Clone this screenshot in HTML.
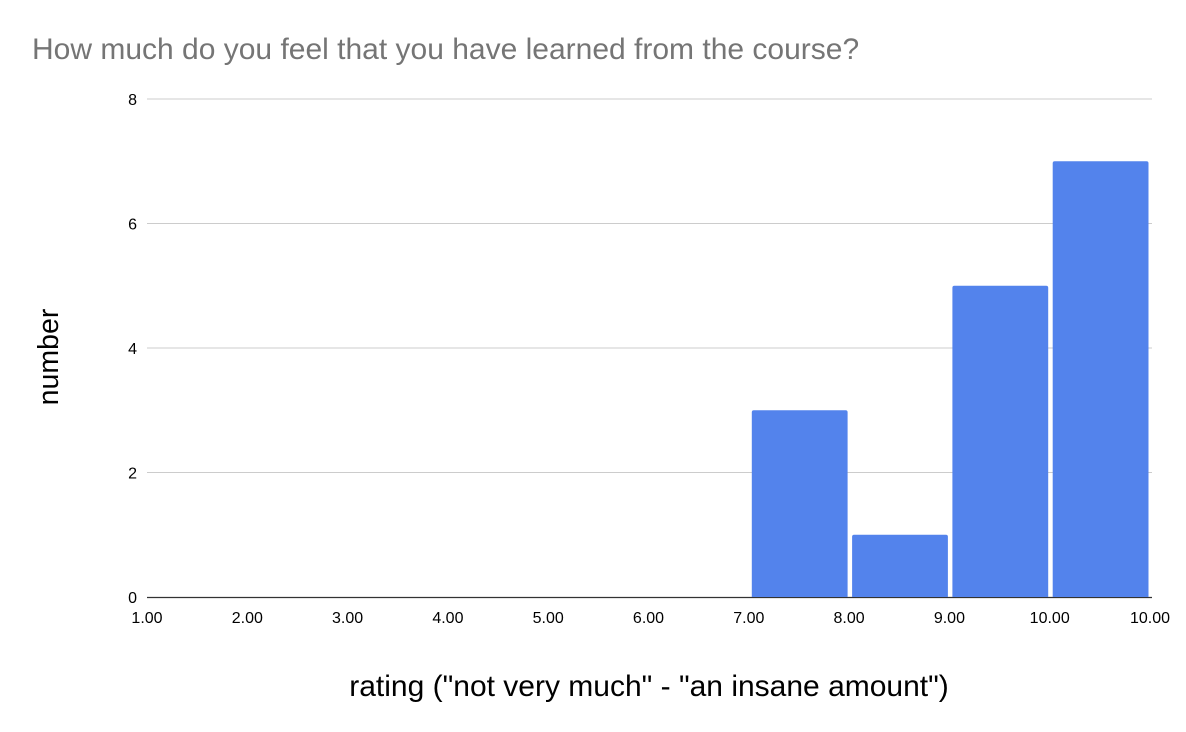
<!DOCTYPE html>
<html><head><meta charset="utf-8"><style>
body{margin:0;background:#fff;}
svg{display:block;font-family:"Liberation Sans",Arial,sans-serif;}
</style></head><body>
<svg id="chart" width="1186" height="732">
<text x="32" y="59" font-size="30" fill="#757575">How much do you feel that you have learned from the course?</text>
<g id="grid"></g>
<g id="bars"></g>
<g id="xticks"></g>
<text transform="translate(58,357) rotate(-90)" text-anchor="middle" font-size="28.5" fill="#000">number</text>
<text x="649" y="696" text-anchor="middle" font-size="30" fill="#000">rating ("not very much" - "an insane amount")</text>
</svg>
<script>
const binStarts = [7, 8, 9, 10];
const counts = [3, 1, 5, 7];
const xTickLabels = ["1.00","2.00","3.00","4.00","5.00","6.00","7.00","8.00","9.00","10.00","10.00"];
const yTicks = [0, 2, 4, 6, 8];

const NS = "http://www.w3.org/2000/svg";
const x = v => 147 + (v - 1) * 100.3;
const y = v => 597 - v * 62.25;
function mk(tag, attrs, parent){const e=document.createElementNS(NS,tag);for(const k in attrs)e.setAttribute(k,attrs[k]);parent.appendChild(e);return e;}
const grid=document.getElementById('grid'), bars=document.getElementById('bars'), xt=document.getElementById('xticks');
yTicks.forEach(t=>{
  if(t>0){const l=mk('line',{x1:147,x2:1152,y1:y(t),y2:y(t),stroke:'#ccc','stroke-width':1},grid);
  
  }
  const tx=mk('text',{x:137,y:y(t)+6,'text-anchor':'end','font-size':16,fill:'#000'},grid);
  tx.textContent=t;
  
  
});
binStarts.forEach((b,i)=>{
  const x0=x(b)+3, x1=x(b+1)-1.5;
  const r=mk('path',{d:`M${x0},${y(0)} V${y(counts[i])+2} Q${x0},${y(counts[i])} ${x0+2},${y(counts[i])} H${x1-2} Q${x1},${y(counts[i])} ${x1},${y(counts[i])+2} V${y(0)} Z`,fill:'#5383EC'},bars);
  
  
});
const ax=mk('line',{x1:147,x2:1152,y1:597.5,y2:597.5,stroke:'#333','stroke-width':1.3},grid);


xTickLabels.forEach((s,i)=>{
  const tx=mk('text',{x:x(1+i),y:623,'text-anchor':'middle','font-size':16,fill:'#000'},xt);
  tx.textContent=s;
  
  
});
</script>
</body></html>
